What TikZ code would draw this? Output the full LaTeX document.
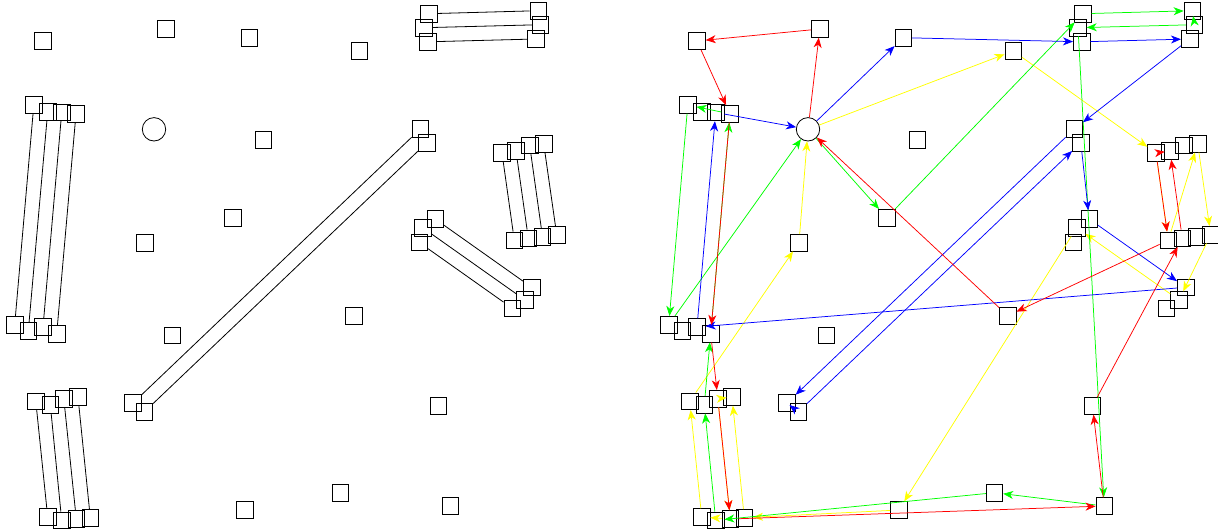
\documentclass[tikz,border=0pt]{standalone}
\usepackage{xcolor}
\usepackage{tikz}
\usetikzlibrary{arrows.meta}

\definecolor{cred}{RGB}{255,0,0}
\definecolor{cgreen}{RGB}{0,255,0}
\definecolor{cblue}{RGB}{0,0,255}
\definecolor{cyellow}{RGB}{255,255,0}

\begin{document}
\begin{tikzpicture}[
  x=1pt, y=-1pt,
  box/.style={draw, minimum size=16.6pt, inner sep=0pt, line width=0.8pt},
  hub/.style={draw, circle, minimum size=23.4pt, inner sep=0pt, line width=0.8pt},
  link/.style={line width=0.8pt},
  arr/.style={-{Stealth[length=10pt, width=8pt, inset=3pt]}, line width=0.75pt},
]
\useasboundingbox (0,0) rectangle (1218,531);

\node[box] (Ls1)  at (43,41) {};
\node[box] (Ls2)  at (165.8,29) {};
\node[box] (Ls3)  at (249.3,37.7) {};
\node[box] (Ls4)  at (359.2,51) {};
\node[hub] (Lhub) at (154,129.3) {};
\node[box] (Ls5)  at (263.2,139.7) {};
\node[box] (Ls6)  at (232.8,217.7) {};
\node[box] (Ls7)  at (145,242.7) {};
\node[box] (Ls8)  at (172.2,335.3) {};
\node[box] (Ls9)  at (353.8,315.7) {};
\node[box] (Ls10) at (438.5,406) {};
\node[box] (Ls11) at (244.8,510) {};
\node[box] (Ls12) at (340.5,492.7) {};
\node[box] (Ls13) at (450.2,506) {};
\node[box] (La1) at (33.8,105) {};
\node[box] (La2) at (47.7,111.7) {};
\node[box] (La3) at (61.7,112.5) {};
\node[box] (La4) at (76,113.8) {};
\node[box] (Lb1) at (14.7,324.7) {};
\node[box] (Lb2) at (28.3,331) {};
\node[box] (Lb3) at (43,327) {};
\node[box] (Lb4) at (56.7,333.7) {};
\node[box] (Lc1) at (35.8,401.3) {};
\node[box] (Lc2) at (50.3,404.7) {};
\node[box] (Lc3) at (63.8,398.7) {};
\node[box] (Lc4) at (78,397) {};
\node[box] (Ld1) at (47.7,517) {};
\node[box] (Ld2) at (61.7,520.3) {};
\node[box] (Ld3) at (76.3,519) {};
\node[box] (Ld4) at (90.3,517.7) {};
\node[box] (Le1) at (429,13.7) {};
\node[box] (Le2) at (424,27.7) {};
\node[box] (Le3) at (427.7,41.8) {};
\node[box] (Lf1) at (538.3,10.7) {};
\node[box] (Lf2) at (540.5,24.7) {};
\node[box] (Lf3) at (535.7,39) {};
\node[box] (Lg1) at (420.3,129) {};
\node[box] (Lg2) at (426.8,142.7) {};
\node[box] (Lh1) at (133,403) {};
\node[box] (Lh2) at (144.2,412) {};
\node[box] (Li1) at (502,153) {};
\node[box] (Li2) at (516,151) {};
\node[box] (Li3) at (529.7,145.5) {};
\node[box] (Li4) at (543.7,143.7) {};
\node[box] (Lj1) at (514.3,240.3) {};
\node[box] (Lj2) at (528.3,238.3) {};
\node[box] (Lj3) at (542.5,236.7) {};
\node[box] (Lj4) at (556.7,234.7) {};
\node[box] (Lk1) at (435.2,219) {};
\node[box] (Lk2) at (422.7,227.7) {};
\node[box] (Lk3) at (419.3,242.5) {};
\node[box] (Ll1) at (531.7,287.3) {};
\node[box] (Ll2) at (525,300) {};
\node[box] (Ll3) at (512.3,308.3) {};

\draw[link] (La1) -- (Lb1);
\draw[link] (La2) -- (Lb2);
\draw[link] (La3) -- (Lb3);
\draw[link] (La4) -- (Lb4);
\draw[link] (Lc1) -- (Ld1);
\draw[link] (Lc2) -- (Ld2);
\draw[link] (Lc3) -- (Ld3);
\draw[link] (Lc4) -- (Ld4);
\draw[link] (Le1) -- (Lf1);
\draw[link] (Le2) -- (Lf2);
\draw[link] (Le3) -- (Lf3);
\draw[link] (Lg1) -- (Lh1);
\draw[link] (Lg2) -- (Lh2);
\draw[link] (Li1) -- (Lj1);
\draw[link] (Li2) -- (Lj2);
\draw[link] (Li3) -- (Lj3);
\draw[link] (Li4) -- (Lj4);
\draw[link] (Lk1) -- (Ll1);
\draw[link] (Lk2) -- (Ll2);
\draw[link] (Lk3) -- (Ll3);

\node[box] (Rs1)  at (697,41) {};
\node[box] (Rs2)  at (819.8,29) {};
\node[box] (Rs3)  at (903.3,37.7) {};
\node[box] (Rs4)  at (1013.2,51) {};
\node[hub] (Rhub) at (808,129.3) {};
\node[box] (Rs5)  at (917.2,139.7) {};
\node[box] (Rs6)  at (886.8,217.7) {};
\node[box] (Rs7)  at (799,242.7) {};
\node[box] (Rs8)  at (826.2,335.3) {};
\node[box] (Rs9)  at (1007.8,315.7) {};
\node[box] (Rs10) at (1092.5,406) {};
\node[box] (Rs11) at (898.8,510) {};
\node[box] (Rs12) at (994.5,492.7) {};
\node[box] (Rs13) at (1104.2,506) {};
\node[box] (Ra1) at (687.8,105) {};
\node[box] (Ra2) at (701.7,111.7) {};
\node[box] (Ra3) at (715.7,112.5) {};
\node[box] (Ra4) at (730,113.8) {};
\node[box] (Rb1) at (668.7,324.7) {};
\node[box] (Rb2) at (682.3,331) {};
\node[box] (Rb3) at (697,327) {};
\node[box] (Rb4) at (710.7,333.7) {};
\node[box] (Rc1) at (689.8,401.3) {};
\node[box] (Rc2) at (704.3,404.7) {};
\node[box] (Rc3) at (717.8,398.7) {};
\node[box] (Rc4) at (732,397) {};
\node[box] (Rd1) at (701.7,517) {};
\node[box] (Rd2) at (715.7,520.3) {};
\node[box] (Rd3) at (730.3,519) {};
\node[box] (Rd4) at (744.3,517.7) {};
\node[box] (Re1) at (1083,13.7) {};
\node[box] (Re2) at (1078,27.7) {};
\node[box] (Re3) at (1081.7,41.8) {};
\node[box] (Rf1) at (1192.3,10.7) {};
\node[box] (Rf2) at (1194.5,24.7) {};
\node[box] (Rf3) at (1189.7,39) {};
\node[box] (Rg1) at (1074.3,129) {};
\node[box] (Rg2) at (1080.8,142.7) {};
\node[box] (Rh1) at (787,403) {};
\node[box] (Rh2) at (798.2,412) {};
\node[box] (Ri1) at (1156,153) {};
\node[box] (Ri2) at (1170,151) {};
\node[box] (Ri3) at (1183.7,145.5) {};
\node[box] (Ri4) at (1197.7,143.7) {};
\node[box] (Rj1) at (1168.3,240.3) {};
\node[box] (Rj2) at (1182.3,238.3) {};
\node[box] (Rj3) at (1196.5,236.7) {};
\node[box] (Rj4) at (1210.7,234.7) {};
\node[box] (Rk1) at (1089.2,219) {};
\node[box] (Rk2) at (1076.7,227.7) {};
\node[box] (Rk3) at (1073.3,242.5) {};
\node[box] (Rl1) at (1185.7,287.3) {};
\node[box] (Rl2) at (1179,300) {};
\node[box] (Rl3) at (1166.3,308.3) {};

\draw[arr, cyellow] (Rhub) -- (Rs4);
\draw[arr, cyellow] (Rs4) -- (Ri1);
\draw[arr, cyellow] (Ri1) -- (Rj1);
\draw[arr, cyellow] (Rj1) -- (Ri4);
\draw[arr, cyellow] (Ri4) -- (Rj4);
\draw[arr, cyellow] (Rj4) -- (Rl2);
\draw[arr, cyellow] (Rl2) -- (Rk2);
\draw[arr, cyellow] (Rk2) -- (Rs11);
\draw[arr, cyellow] (Rs11) -- (Rd4);
\draw[arr, cyellow] (Rd4) -- (Rc4);
\draw[arr, cyellow] (Rc4) -- (Rc3);
\draw[arr, cyellow] (Rc3) -- (Rd3);
\draw[arr, cyellow] (Rd3) -- (Rd1);
\draw[arr, cyellow] (Rd1) -- (Rc1);
\draw[arr, cyellow] (Rc1) -- (Rs7);
\draw[arr, cyellow] (Rs7) -- (Rhub);

\draw[arr, cgreen] (Rhub) -- (Rs6);
\draw[arr, cgreen] (Rs6) -- (Re1);
\draw[arr, cgreen] (Re1) -- (Rf1);
\draw[arr, cgreen] (Rf1) -- (Rf2);
\draw[arr, cgreen] (Rf2) -- (Re2);
\draw[arr, cgreen] (Re2) -- (Rs13);
\draw[arr, cgreen] (Rs13) -- (Rs12);
\draw[arr, cgreen] (Rs12) -- (Rd2);
\draw[arr, cgreen] (Rd2) -- (Rc2);
\draw[arr, cgreen] (Rc2) -- (Rb4);
\draw[arr, cgreen] (Rb4) -- (Ra4);
\draw[arr, cgreen] (Ra4) -- (Ra1);
\draw[arr, cgreen] (Ra1) -- (Rb1);
\draw[arr, cgreen] (Rb1) -- (Rhub);

\draw[arr, cblue] (Rhub) -- (Rs3);
\draw[arr, cblue] (Rs3) -- (Re3);
\draw[arr, cblue] (Re3) -- (Rf3);
\draw[arr, cblue] (Rf3) -- (Rg1);
\draw[arr, cblue] (Rg1) -- (Rh1);
\draw[arr, cblue] (Rh1) -- (Rh2);
\draw[arr, cblue] (Rh2) -- (Rg2);
\draw[arr, cblue] (Rg2) -- (Rk1);
\draw[arr, cblue] (Rk1) -- (Rl1);
\draw[arr, cblue] (Rl1) -- (Rb3);
\draw[arr, cblue] (Rb3) -- (Ra3);
\draw[arr, cblue] (Ra3) -- (Rhub);

\draw[arr, cred] (Rhub) -- (Rs2);
\draw[arr, cred] (Rs2) -- (Rs1);
\draw[arr, cred] (Rs1) -- (Ra4);
\draw[arr, cred] (Ra4) -- (Rb4);
\draw[arr, cred] (Rb4) -- (Rc3);
\draw[arr, cred] (Rc3) -- (Rd3);
\draw[arr, cred] (Rd3) -- (Rs13);
\draw[arr, cred] (Rs13) -- (Rs10);
\draw[arr, cred] (Rs10) -- (Rj2);
\draw[arr, cred] (Rj2) -- (Ri2);
\draw[arr, cred] (Ri2) -- (Ri1);
\draw[arr, cred] (Ri1) -- (Rj1);
\draw[arr, cred] (Rj1) -- (Rs9);
\draw[arr, cred] (Rs9) -- (Rhub);
\end{tikzpicture}
\end{document}
